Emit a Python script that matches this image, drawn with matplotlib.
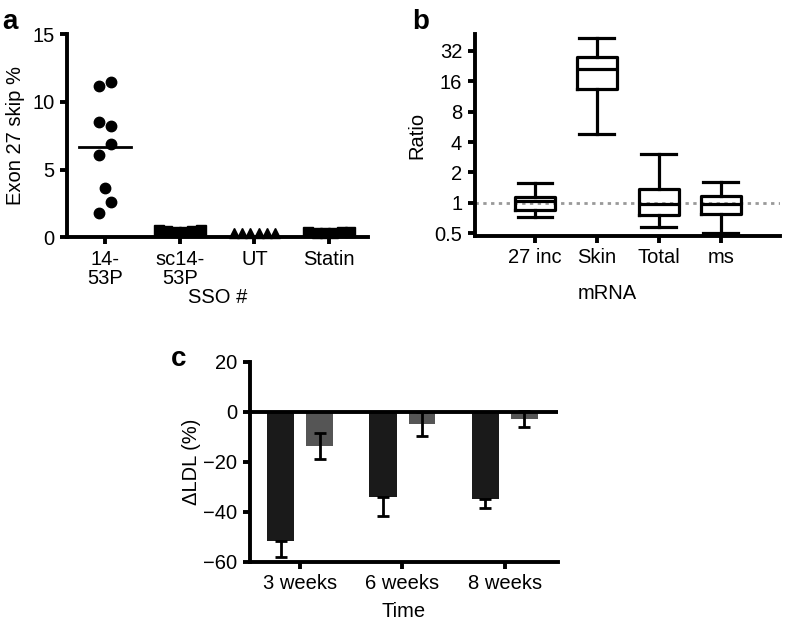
import numpy as np
import matplotlib
matplotlib.use("Agg")
import matplotlib.pyplot as plt

plt.rcParams["font.family"] = ["Liberation Sans", "DejaVu Sans"]
plt.rcParams["axes.unicode_minus"] = True

# panel a: exon 27 skipping per SSO
sso_labels = ["14-\n53P", "sc14-\n53P", "UT", "Statin"]
skip_1453p = [11.2, 11.5, 8.5, 8.2, 6.9, 6.1, 3.6, 2.6, 1.8]
skip_1453p_median = 6.7
skip_sc = [0.5, 0.45, 0.4, 0.4, 0.45, 0.5]
skip_ut = [0.3, 0.3, 0.3, 0.3, 0.3, 0.3]
skip_statin = [0.35, 0.3, 0.3, 0.3, 0.35, 0.35]

# panel b: box plot stats (whislo, q1, med, q3, whishi)
mrna_labels = ["27 inc", "Skin", "Total", "ms"]
box_whislo = [0.73, 4.8, 0.58, 0.5]
box_q1 = [0.84, 13.4, 0.75, 0.78]
box_med = [1.03, 21.0, 0.98, 0.97]
box_q3 = [1.13, 28.0, 1.37, 1.16]
box_whishi = [1.58, 43.0, 3.07, 1.6]

# panel c: LDL change
time_labels = ["3 weeks", "6 weeks", "8 weeks"]
ldl_sso = [-51.6, -34.0, -35.0]
ldl_sso_err = [6.4, 7.7, 3.7]
ldl_ctrl = [-13.7, -4.8, -3.0]
ldl_ctrl_err = [5.3, 4.8, 3.3]

LW = 2.8
FS = 14.5

fig = plt.figure(figsize=(7.86, 6.24), dpi=100)


def style(ax):
    for s in ["top", "right"]:
        ax.spines[s].set_visible(False)
    for s in ["left", "bottom"]:
        ax.spines[s].set_linewidth(LW)
    ax.tick_params(width=LW, length=5, labelsize=FS, direction="out", pad=4)


# ---- a ----
axa = fig.add_axes([0.0852, 0.620, 0.383, 0.325])
style(axa)
x0 = np.array([-0.08, 0.08, -0.08, 0.08, 0.08, -0.08, 0.0, 0.08, -0.08])
axa.plot(0 + x0, skip_1453p, "o", color="black", ms=7.5, clip_on=False)
axa.plot([-0.35, 0.35], [skip_1453p_median] * 2, color="black", lw=2)
for i, (vals, m) in enumerate([(skip_sc, "s"), (skip_ut, "^"), (skip_statin, "s")], start=1):
    offs = np.linspace(-0.28, 0.28, len(vals))
    axa.plot(i + offs, vals, m, color="black", ms=7 if m == "s" else 6.5, clip_on=False)
axa.set_xlim(-0.51, 3.52)
axa.set_ylim(0, 15)
axa.set_yticks([0, 5, 10, 15])
axa.set_xticks(range(4))
axa.set_xticklabels(sso_labels, linespacing=1.05)
axa.set_ylabel("Exon 27 skip %", fontsize=FS, labelpad=5)
axa.set_xlabel("SSO #", fontsize=FS, labelpad=0)
fig.text(0.003, 0.985, "a", fontsize=20, fontweight="bold", va="top")

# ---- b ----
axb = fig.add_axes([0.604, 0.622, 0.388, 0.3235])
style(axb)
stats = []
for lo, q1, md, q3, hi in zip(box_whislo, box_q1, box_med, box_q3, box_whishi):
    stats.append({"whislo": lo, "q1": q1, "med": md, "q3": q3, "whishi": hi})
axb.axhline(1, color="#999999", lw=2, ls=(0, (1.2, 1.6)), zorder=1)
lp = dict(color="black", linewidth=2.3)
axb.bxp(stats, positions=range(4), widths=0.65, showfliers=False,
        boxprops=lp, whiskerprops=lp, capprops=lp, medianprops=lp,
        patch_artist=False, capwidths=0.56, manage_ticks=False)
axb.set_yscale("log", base=2)
axb.set_ylim(0.47, 47)
axb.set_yticks([0.5, 1, 2, 4, 8, 16, 32])
axb.set_yticklabels(["0.5", "1", "2", "4", "8", "16", "32"])
axb.minorticks_off()
axb.set_xlim(-0.97, 3.95)
axb.set_xticks(range(4))
axb.set_xticklabels(mrna_labels)
axb.set_ylabel("Ratio", fontsize=FS, labelpad=6)
axb.set_xlabel("mRNA", fontsize=FS)
axb.xaxis.set_label_coords(0.433, -0.24)
fig.text(0.524, 0.985, "b", fontsize=20, fontweight="bold", va="top")

# ---- c ----
axc = fig.add_axes([0.318, 0.0998, 0.392, 0.3206])
style(axc)
xc = np.arange(3)
axc.bar(xc - 0.19, ldl_sso, width=0.27, color="#1a1a1a", zorder=2)
axc.bar(xc + 0.19, ldl_ctrl, width=0.26, color="#555555", zorder=2)
axc.errorbar(xc - 0.19, ldl_sso, yerr=[ldl_sso_err, [0] * 3], fmt="none", ecolor="black",
             elinewidth=2, capsize=4, capthick=2, zorder=3)
axc.errorbar(xc + 0.19, ldl_ctrl, yerr=ldl_ctrl_err, fmt="none", ecolor="black",
             elinewidth=2, capsize=4, capthick=2, zorder=3)
axc.axhline(0, color="black", lw=LW, zorder=4)
axc.set_xlim(-0.49, 2.52)
axc.set_ylim(-60, 20)
axc.set_yticks([-60, -40, -20, 0, 20])
axc.set_xticks(xc)
axc.set_xticklabels(time_labels)
axc.set_ylabel("\u0394LDL (%)", fontsize=FS, labelpad=2)
axc.set_xlabel("Time", fontsize=FS, labelpad=6)
fig.text(0.218, 0.445, "c", fontsize=20, fontweight="bold", va="top")

fig.savefig("out.png", dpi=100)
